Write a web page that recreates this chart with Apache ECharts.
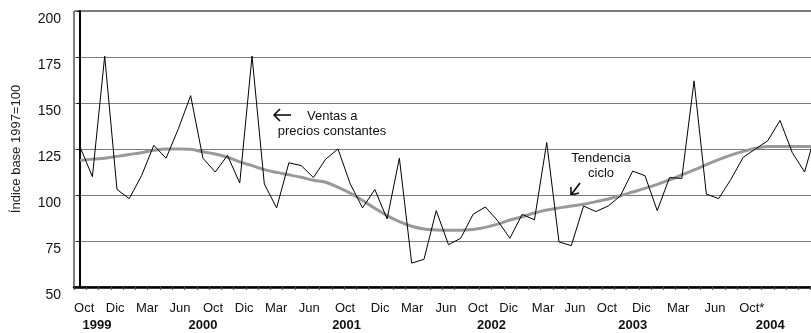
<!DOCTYPE html>
<html>
<head>
<meta charset="utf-8">
<script src="https://cdn.jsdelivr.net/npm/echarts@6/dist/echarts.min.js"></script>
<style>html,body{margin:0;padding:0;background:#fff;}#c{width:811px;height:333px;}</style>
</head>
<body>
<div id="c"></div>
<script>
// Monthly categories, Oct 1999 .. Oct 2004
const monthNames = ['Oct','Nov','Dic','Ene','Feb','Mar','Abr','May','Jun','Jul','Ago','Sep'];
const startYear = 1999;
const nPoints = 61;
const categories = [];
for (let i = 0; i < nPoints; i++) {
  const m = i % 12;
  const y = startYear + Math.floor((i + 9) / 12);
  categories.push(monthNames[m] + ' ' + y);
}

// Ventas a precios constantes (índice base 1997=100)
const ventas = [126,110,175.5,103,98,110.5,127,120,136,154,120,112.5,121.5,106.5,175.5,106,93,117.5,116,109.5,
  119.5,125,106,93,103,87,120,63,65,91.5,73,76.5,89.5,93.5,86,76.5,89.5,86.5,128.5,74.5,
  72.5,94,91,94,99.5,113,110.5,91.5,109.5,109,162,100.5,98,108.5,120.5,125,129.5,140.5,123,112.5,136];

// Tendencia ciclo
const tendencia = [118.7,119.5,120,121,122,123,124.3,125,125,124.8,123.5,122.3,120.5,118,116,113.8,112.3,111,109.6,108,
  106.9,104.2,101,97,92.8,88.8,85.5,83,81.5,81,80.8,80.8,81.3,82.4,84.2,86.4,88.2,90.2,91.8,93,
  94,95,96.4,97.8,99.6,101.6,103.6,105.8,108.2,110.9,113.6,116.5,119.2,121.7,123.7,125.4,126.3,126.4,126.4,126.4,126.4];

// Axis tick labels (as printed in the original) and their positions along the month index
const monthLabels = ['Oct','Dic','Mar','Jun','Oct','Dic','Mar','Jun','Oct','Dic','Mar','Jun','Oct','Dic','Mar','Jun','Oct','Dic','Mar','Jun','Oct*'];
const monthLabelPos = [0.33,2.85,5.46,8.14,10.83,13.36,15.96,18.65,21.58,24.43,27.04,29.8,32.4,34.9,37.7,40.3,42.9,45.7,48.7,51.7,54.7];
const yearLabels = ['1999','2000','2001','2002','2003','2004'];
const yearLabelPos = [1.38,10.0,21.7,33.5,45.0,56.2];

const yTicks = [50,75,100,125,150,175,200];

const font = '"Liberation Sans", Arial, sans-serif';
const chart = echarts.init(document.getElementById('c'), null, {renderer: 'canvas'});

chart.setOption({
  animation: false,
  backgroundColor: '#fff',
  grid: {
    left: 74, top: 11, width: 749, height: 276,
    show: true, borderColor: '#000', borderWidth: 1, backgroundColor: 'transparent',
    outerBoundsMode: 'none'
  },
  xAxis: [
    {
      type: 'category', data: categories, boundaryGap: true,
      axisLine: {lineStyle: {color: '#000', width: 2.5}},
      axisTick: {show: true, interval: 0, length: 3, lineStyle: {color: '#555', width: 1}},
      axisLabel: {show: false},
      splitLine: {show: false}
    },
    {
      type: 'value', min: -0.5, max: nPoints - 0.5, position: 'bottom', offset: 0,
      axisLine: {show: false}, axisTick: {show: false}, splitLine: {show: false},
      axisLabel: {
        show: true, margin: 15, fontSize: 13, fontFamily: font, color: '#111',
        customValues: monthLabelPos,
        formatter: function (v) { const i = monthLabelPos.indexOf(v); return i >= 0 ? monthLabels[i] : ''; }
      }
    },
    {
      type: 'value', min: -0.5, max: nPoints - 0.5, position: 'bottom', offset: 0,
      axisLine: {show: false}, axisTick: {show: false}, splitLine: {show: false},
      axisLabel: {
        show: true, margin: 32, fontSize: 13, fontWeight: 'bold', fontFamily: font, color: '#111',
        customValues: yearLabelPos,
        formatter: function (v) { const i = yearLabelPos.indexOf(v); return i >= 0 ? yearLabels[i] : ''; }
      }
    }
  ],
  yAxis: {
    type: 'value', min: yTicks[0], max: yTicks[yTicks.length - 1], interval: 25,
    name: 'Índice base 1997=100', nameLocation: 'middle', nameGap: 51, nameRotate: 90,
    nameTextStyle: {fontSize: 13, fontFamily: font, color: '#222', padding: [0, 0, 0, 0]},
    axisLine: {show: true, lineStyle: {color: '#000', width: 2}},
    axisTick: {show: true, length: 3, lineStyle: {color: '#000'}},
    axisLabel: {fontSize: 14, fontFamily: font, color: '#111', margin: 13, verticalAlign: 'top', padding: [1, 0, 0, 0]},
    splitLine: {show: true, lineStyle: {color: '#7a7a7a', width: 1}}
  },
  series: [
    {
      name: 'Tendencia ciclo', type: 'line', data: tendencia, xAxisIndex: 0,
      smooth: 0.4, symbol: 'none',
      lineStyle: {color: '#999999', width: 3}, z: 2
    },
    {
      name: 'Ventas a precios constantes', type: 'line', data: ventas, xAxisIndex: 0,
      smooth: false, symbol: 'none',
      lineStyle: {color: '#000', width: 1}, z: 3
    }
  ],
  graphic: [
    {type: 'text', left: 307, top: 110, style: {text: 'Ventas a', font: '13px ' + font, fill: '#111'}},
    {type: 'text', x: 332, y: 125, style: {text: 'precios constantes', font: '13px ' + font, fill: '#111', textAlign: 'center'}},
    {type: 'polyline', shape: {points: [[274, 115], [291, 115]]}, style: {stroke: '#000', lineWidth: 1.5}},
    {type: 'polyline', shape: {points: [[280, 109], [274, 115], [280, 121]]}, style: {stroke: '#000', lineWidth: 1.5, fill: null}},
    {type: 'text', x: 601, y: 152, style: {text: 'Tendencia', font: '13px ' + font, fill: '#111', textAlign: 'center'}},
    {type: 'text', x: 601, y: 167, style: {text: 'ciclo', font: '13px ' + font, fill: '#111', textAlign: 'center'}},
    {type: 'polyline', shape: {points: [[580, 183], [571, 195]]}, style: {stroke: '#000', lineWidth: 1.5}},
    {type: 'polyline', shape: {points: [[571, 187], [571, 195], [579, 193]]}, style: {stroke: '#000', lineWidth: 1.5, fill: null}}
  ]
});
</script>
</body>
</html>
